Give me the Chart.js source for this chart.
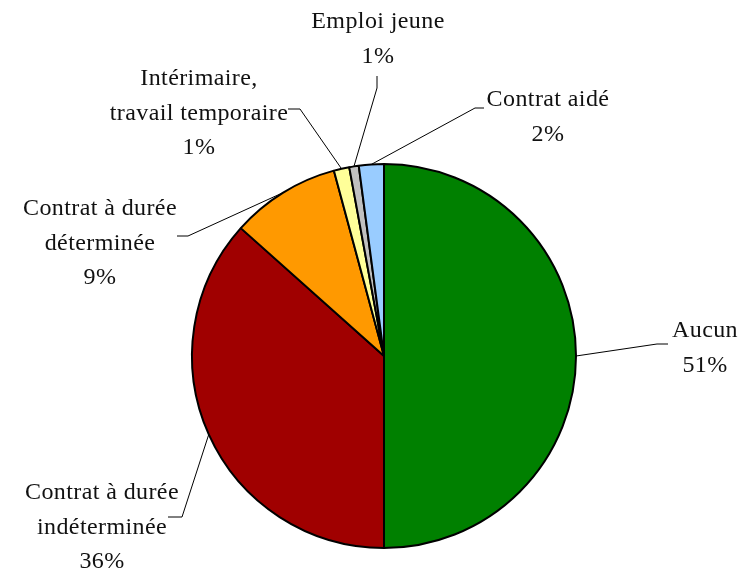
<!DOCTYPE html>
<html>
<head>
<meta charset="utf-8">
<script src="https://cdn.jsdelivr.net/npm/chart.js@4/dist/chart.umd.min.js"></script>
<style>
  html, body { margin: 0; padding: 0; background: #fff; }
  #wrap { width: 742px; height: 568px; }
</style>
</head>
<body>
<div id="wrap"><canvas id="pieChart" width="742" height="568"></canvas></div>
<script>
// données (sens horaire depuis le haut)
const categories = ['Aucun', 'Contrat à durée indéterminée', 'Contrat à durée déterminée',
    'Intérimaire, travail temporaire', 'Emploi jeune', 'Contrat aidé'];
const shares = [50.0, 36.6, 9.2, 1.3, 0.8, 2.1];
const pctLabels = ['51%', '36%', '9%', '1%', '1%', '2%'];
const colors = ['#008000', '#A00000', '#FF9900', '#FFFF99', '#C0C0C0', '#99CCFF'];

// mise en page des étiquettes : lignes de texte, centre du texte, coude et fin du trait
const labelLayout = [
    { lines: ['Aucun'], x: 705, y: 331, elbow: [657, 344], end: [668, 344] },
    { lines: ['Contrat à durée', 'indéterminée'], x: 102, y: 493, elbow: [182, 517], end: [168, 517] },
    { lines: ['Contrat à durée', 'déterminée'], x: 100, y: 209, elbow: [188, 236], end: [177, 236] },
    { lines: ['Intérimaire,', 'travail temporaire'], x: 199, y: 79, elbow: [300, 109], end: [288, 109] },
    { lines: ['Emploi jeune'], x: 378, y: 22, elbow: [377, 88], end: [377, 76] },
    { lines: ['Contrat aidé'], x: 548, y: 100, elbow: [475, 108], end: [484, 108] }
];
const lineHeight = 34.5;

// plugin : traits de rappel + étiquettes
const leaderLabels = {
    id: 'leaderLabels',
    afterDraw(chart) {
        const ctx = chart.ctx;
        const arcs = chart.getDatasetMeta(0).data;
        ctx.save();
        ctx.strokeStyle = '#000';
        ctx.lineWidth = 1;
        arcs.forEach((arc, i) => {
            const lay = labelLayout[i];
            const mid = (arc.startAngle + arc.endAngle) / 2;
            const sx = arc.x + Math.cos(mid) * arc.outerRadius;
            const sy = arc.y + Math.sin(mid) * arc.outerRadius;
            ctx.beginPath();
            ctx.moveTo(sx, sy);
            ctx.lineTo(lay.elbow[0], lay.elbow[1]);
            ctx.lineTo(lay.end[0], lay.end[1]);
            ctx.stroke();
        });
        ctx.fillStyle = '#111';
        ctx.font = '24px "Liberation Serif", serif';
        ctx.letterSpacing = '0.4px';
        ctx.textAlign = 'center';
        ctx.textBaseline = 'middle';
        labelLayout.forEach((lay, i) => {
            const lines = lay.lines.concat([pctLabels[i]]);
            lines.forEach((t, k) => {
                ctx.fillText(t, lay.x, lay.y + k * lineHeight);
            });
        });
        ctx.restore();
    }
};

const ctx = document.getElementById('pieChart').getContext('2d');
const pieChart = new Chart(ctx, {
    type: 'pie',
    data: {
        labels: categories,
        datasets: [{
            data: shares,
            backgroundColor: colors,
            borderColor: '#000',
            borderWidth: 2
        }]
    },
    options: {
        responsive: false,
        animation: false,
        layout: { padding: { top: 163, bottom: 19, left: 26, right: 0 } },
        plugins: {
            legend: { display: false },
            tooltip: { enabled: false }
        }
    },
    plugins: [leaderLabels]
});
</script>
</body>
</html>
